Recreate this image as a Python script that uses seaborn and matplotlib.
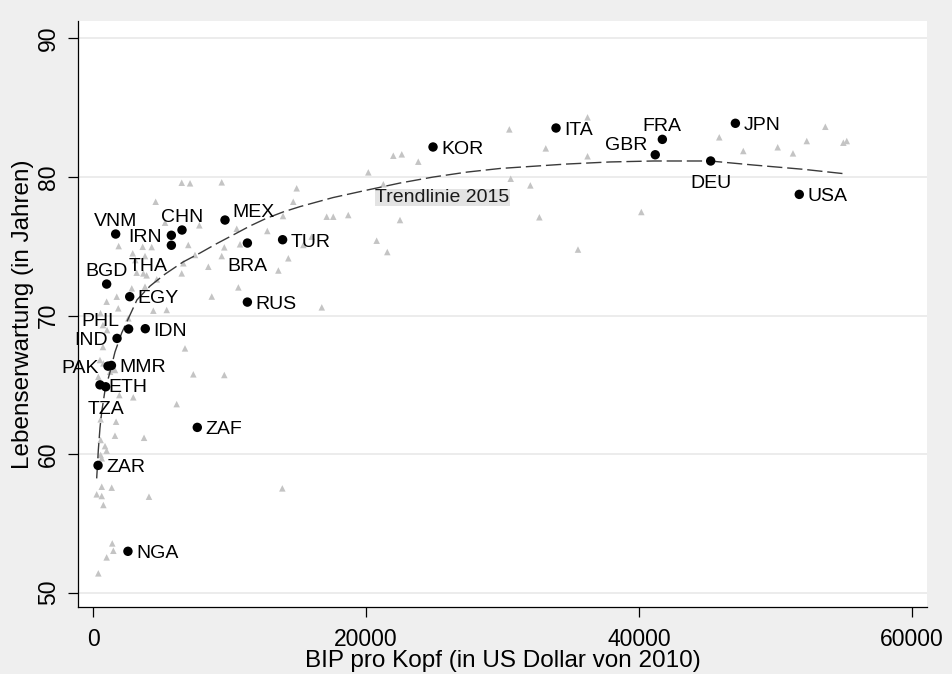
import matplotlib
matplotlib.use("Agg")
import matplotlib.pyplot as plt
import seaborn as sns

# Labelled countries: GDP per capita (2010 US$) and life expectancy (years), 2015
countries = ["VNM", "CHN", "IRN", "THA", "MEX", "BRA", "TUR", "BGD", "EGY", "RUS",
             "PHL", "IDN", "IND", "PAK", "MMR", "ETH", "TZA", "ZAR", "ZAF", "NGA",
             "KOR", "ITA", "FRA", "GBR", "JPN", "DEU", "USA"]
gdp = [1660, 6520, 5740, 5740, 9670, 11310, 13890, 1000, 2690, 11310,
       2610, 3830, 1760, 1100, 1350, 510, 930, 370, 7640, 2560,
       24910, 33920, 41710, 41190, 47060, 45250, 51740]
life = [75.88, 76.17, 75.79, 75.07, 76.89, 75.23, 75.47, 72.27, 71.36, 70.97,
        69.03, 69.05, 68.35, 66.35, 66.40, 65.00, 64.86, 59.19, 61.93, 52.99,
        82.16, 83.53, 82.71, 81.60, 83.87, 81.15, 78.74]

# All other countries
other_gdp = [6500, 7110, 9430, 14920, 4590, 14670, 5280, 7790, 10530, 13920,
             1880, 3640, 4300, 6980, 7470, 9620, 10770, 12770, 14310, 2910,
             3810, 3100, 6620, 8450, 9430, 13580, 3200, 3690, 3930, 6500,
             2840, 1740, 3810, 4670, 10650, 8700, 1000, 1850, 4420, 5400,
             2590, 16020, 15410, 17120, 17600, 18700, 22490, 20780, 21560, 16760,
             20170, 21270, 22000, 22620, 23830, 30500, 36230, 33170, 36230, 30600,
             32040, 32700, 35530, 40170, 45880, 47640, 50160, 51280, 52290, 53650,
             54970, 55220, 6740, 7350, 9620, 6130, 2950, 1930, 1690, 560,
             1610, 3740, 560, 880, 1000, 560, 640, 640, 1370, 270,
             640, 4100, 13870, 760, 1410, 1490, 1000, 390, 760, 1610,
             390, 1250, 1490, 510, 730, 1030, 550, 730]
other_life = [79.58, 79.54, 79.61, 79.18, 78.21, 78.21, 76.70, 76.51, 76.26, 77.18,
              75.01, 74.96, 74.94, 75.09, 74.37, 74.92, 75.14, 76.10, 74.13, 74.49,
              74.29, 74.00, 73.77, 73.52, 74.29, 73.25, 73.09, 73.04, 72.90, 73.04,
              71.96, 71.36, 72.08, 72.61, 72.03, 71.37, 71.00, 70.52, 70.35, 70.40,
              69.80, 75.69, 75.09, 77.13, 77.13, 77.25, 76.89, 75.40, 74.58, 70.59,
              80.33, 79.47, 81.53, 81.63, 81.10, 83.43, 84.30, 82.06, 81.49, 79.87,
              79.39, 77.09, 74.76, 77.47, 82.86, 81.87, 82.14, 81.70, 82.59, 83.62,
              82.47, 82.59, 67.63, 65.76, 65.71, 63.61, 64.10, 64.26, 62.34, 62.51,
              61.33, 61.18, 61.02, 60.58, 60.25, 59.94, 59.70, 57.65, 57.58, 57.10,
              56.98, 56.93, 57.53, 56.33, 53.56, 53.03, 52.55, 51.40, 66.55, 66.07,
              65.58, 65.94, 66.12, 66.79, 67.73, 68.95, 70.17, 69.31]

# 2015 trend line
trend_gdp = [270, 390, 510, 640, 880, 1250, 1610, 2100, 3220, 4180,
             5280, 6590, 7840, 9010, 10260, 11500, 12670, 13920, 15170, 17580,
             20070, 22490, 24910, 27400, 29820, 34700, 37870, 41050, 45200, 48370,
             52040, 55240]
trend_life = [58.25, 60.30, 61.88, 63.06, 64.62, 65.94, 67.37, 68.74, 71.13, 72.13,
              72.99, 73.86, 74.51, 75.16, 75.81, 76.46, 77.00, 77.47, 77.86, 78.51,
              79.05, 79.56, 79.99, 80.35, 80.61, 80.93, 81.08, 81.15, 81.15, 80.86,
              80.55, 80.21]

x_ticks = [0, 20000, 40000, 60000]
y_ticks = [50, 60, 70, 80, 90]

# Marker label placement (clock positions)
label_pos = {"VNM": 12, "CHN": 12, "IRN": 9, "THA": 7, "MEX": 1, "BRA": 6, "TUR": 3,
             "BGD": 12, "EGY": 3, "RUS": 3, "PHL": 11, "IDN": 3, "IND": 9, "PAK": 9,
             "MMR": 3, "ETH": 3, "TZA": 6, "ZAR": 3, "ZAF": 3, "NGA": 3, "KOR": 3,
             "ITA": 3, "FRA": 12, "GBR": 10, "JPN": 3, "DEU": 6, "USA": 3}
clock_offsets = {
    3: (5.8, -4.9, "left"),
    9: (-6.5, -4.9, "right"),
    12: (0.0, 5.8, "center"),
    6: (0.0, -19.8, "center"),
    1: (5.0, 2.4, "left"),
    11: (-7.0, 2.2, "right"),
    10: (-6.0, 3.4, "right"),
    7: (-3.0, -18.4, "right"),
}

sns.set_theme(style="white")
plt.rcParams["font.family"] = ["Liberation Sans", "DejaVu Sans"]
FS_MARK = 14.0   # marker labels and trend-line caption
FS_TICK = 16.5   # tick labels
FS_TITLE = 17.5  # axis titles

W, H = 953, 674
fig = plt.figure(figsize=(W / 100, H / 100), dpi=100, facecolor="#EFEFEF")
left, right, top, bottom = 77.7, 927.3, 21.0, 607.3
ax = fig.add_axes([left / W, 1 - bottom / H, (right - left) / W, (bottom - top) / H])
ax.set_facecolor("white")

sns.scatterplot(x=other_gdp, y=other_life, marker="^", s=22, color="#C4C4C4",
                edgecolor="none", linewidth=0, ax=ax, zorder=2)
sns.lineplot(x=trend_gdp, y=trend_life, color="#3A3A3A", linewidth=1.0,
             linestyle=(0, (11, 3.5)), estimator=None, sort=False, ax=ax, zorder=3)
sns.scatterplot(x=gdp, y=life, color="black", s=46, edgecolor="none", linewidth=0,
                ax=ax, zorder=4)

for name, gx, ly in zip(countries, gdp, life):
    dx, dy, ha = clock_offsets[label_pos[name]]
    ax.annotate(name, (gx, ly), xytext=(dx, dy), textcoords="offset points",
                ha=ha, va="baseline", fontsize=FS_MARK, color="black", zorder=5)

ax.text(25570, 78.51, "Trendlinie 2015", ha="center", va="center", fontsize=FS_MARK,
        color="#1A1A1A", zorder=5,
        bbox=dict(boxstyle="square,pad=0.02", fc="#E3E3E3", ec="none"))

ax.set_xlim(-1121, 61120)
ax.set_ylim(48.95, 91.25)
ax.set_xticks(x_ticks)
ax.set_yticks(y_ticks)
ax.set_xticklabels([str(t) for t in x_ticks])
ax.set_yticklabels([str(t) for t in y_ticks])
ax.grid(axis="y", color="#EAEAEA", linewidth=1.3)
ax.grid(axis="x", visible=False)
ax.set_axisbelow(True)

for side in ["top", "right"]:
    ax.spines[side].set_visible(False)
for side in ["left", "bottom"]:
    ax.spines[side].set_color("black")
    ax.spines[side].set_linewidth(0.9)

ax.tick_params(axis="both", direction="out", length=7.2, width=0.9, color="black",
               labelsize=FS_TICK, labelcolor="black", left=True, bottom=True)
ax.tick_params(axis="x", pad=8)
ax.tick_params(axis="y", labelrotation=90, pad=5.5)
for lbl in ax.get_yticklabels():
    lbl.set_va("center")

ax.set_xlabel("BIP pro Kopf (in US Dollar von 2010)", fontsize=FS_TITLE, color="black")
ax.set_ylabel("Lebenserwartung (in Jahren)", fontsize=FS_TITLE, color="black")
ax.xaxis.set_label_coords(0.5, -0.072)
ax.yaxis.set_label_coords(-0.052, 0.5)

fig.savefig("out.png", dpi=100, facecolor=fig.get_facecolor())
